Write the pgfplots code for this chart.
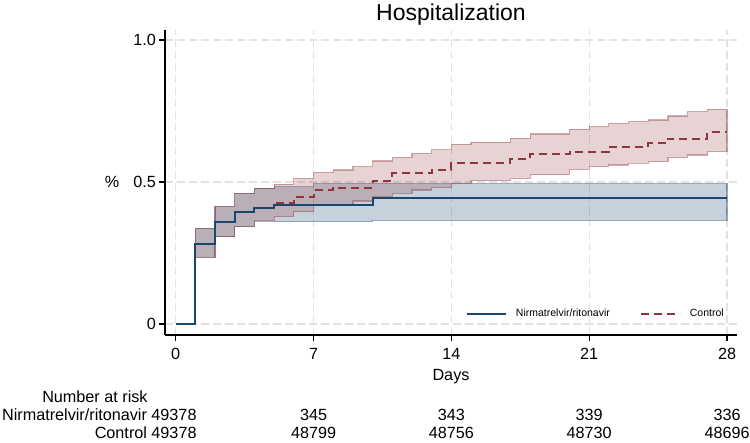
\documentclass[border=0pt]{standalone}
\usepackage{pgfplots}
\pgfplotsset{compat=1.18}
\usepackage{pgfplotstable}
\usepgfplotslibrary{fillbetween}
\usepackage{fontspec}
\setmainfont{Liberation Sans}
\definecolor{navy}{HTML}{1A476F}
\definecolor{maroon}{HTML}{90353B}
\definecolor{gridc}{HTML}{E2E2E2}

\pgfplotstableread{
t s
0 0
1 0.282
2 0.360
3 0.395
4 0.407
5 0.418
10 0.445
28 0.445
}\bline
\pgfplotstableread{
t lo hi
1 0.235 0.337
2 0.307 0.413
3 0.343 0.460
4 0.362 0.478
5 0.360 0.483
7 0.360 0.494
10 0.365 0.494
28 0.365 0.494
}\bband
\pgfplotstableread{
t s
0 0
1 0.282
2 0.360
3 0.395
4 0.410
5 0.425
6 0.446
7 0.472
8 0.480
10 0.505
11 0.531
13 0.542
14 0.566
17 0.580
18 0.597
20 0.607
22 0.624
24 0.636
25 0.653
27 0.675
28 0.675
}\rline
\pgfplotstableread{
t lo hi
1 0.235 0.337
2 0.307 0.413
3 0.343 0.460
4 0.364 0.478
5 0.378 0.492
6 0.395 0.513
7 0.419 0.534
8 0.419 0.542
9 0.433 0.554
10 0.448 0.574
11 0.460 0.587
12 0.472 0.601
13 0.480 0.613
14 0.495 0.633
15 0.505 0.640
17 0.513 0.654
18 0.525 0.669
20 0.544 0.686
21 0.554 0.695
22 0.560 0.706
23 0.566 0.712
24 0.572 0.718
25 0.586 0.732
26 0.595 0.748
27 0.607 0.756
28 0.607 0.756
}\rband

\begin{document}
\begin{tikzpicture}
\begin{axis}[
  at={(82.5pt,54pt)}, anchor=south west,
  scale only axis, width=286pt, height=152.5pt,
  xmin=-0.543, xmax=28.507, ymin=-0.0387, ymax=1.035,
  axis x line*=bottom, axis y line*=left,
  axis line style={line width=0.6pt, -},
  xtick={0,7,14,21,28}, ytick={0,0.5,1}, yticklabels={0,0.5,1.0},
  tick align=outside, major tick length=3pt,
  tick style={black, line width=0.6pt},
  grid=major, grid style={gridc, line width=0.6pt, dash pattern=on 4pt off 2pt},
  tick label style={font=\fontsize{8.1}{9}\selectfont},
  yticklabel style={xshift=2pt},
  /pgf/number format/assume math mode=true,
  xlabel={Days},
  xlabel style={font=\fontsize{8.1}{9}\selectfont, at={(axis description cs:0.5,0)}, anchor=base, yshift=-22.9pt},
  clip=false,
  legend style={at={(axis description cs:0.995,0.069)}, anchor=east, draw=none, fill=none,
    font=\fontsize{5.25}{6}\selectfont, legend columns=2,
    /tikz/every odd column/.append style={column sep=2.5pt},
    /tikz/every even column/.append style={column sep=13pt}},
  legend image code/.code={\draw[#1] (0pt,0pt) -- (19.5pt,0pt);},
]
\addplot[const plot, draw=none, name path=bl, forget plot] table[x=t, y=lo] {\bband};
\addplot[const plot, draw=none, name path=bh, forget plot] table[x=t, y=hi] {\bband};
\addplot[fill=navy, fill opacity=0.25, draw=navy, draw opacity=0.4, line width=0.6pt, forget plot] fill between[of=bh and bl];
\addplot[const plot, draw=none, name path=rl, forget plot] table[x=t, y=lo] {\rband};
\addplot[const plot, draw=none, name path=rh, forget plot] table[x=t, y=hi] {\rband};
\addplot[fill=maroon, fill opacity=0.22, draw=maroon, draw opacity=0.4, line width=0.6pt, forget plot] fill between[of=rh and rl];
\addplot[const plot, maroon, line width=1pt, dash pattern=on 4pt off 2.5pt, forget plot] table[x=t, y=s] {\rline};
\addplot[const plot, navy, line width=1pt, forget plot] table[x=t, y=s] {\bline};
\addlegendimage{navy, line width=1pt}
\addlegendentry{Nirmatrelvir/ritonavir}
\addlegendimage{maroon, line width=1pt, dash pattern=on 4pt off 2.5pt}
\addlegendentry{Control}
\node[font=\fontsize{11.5}{13}\selectfont, anchor=base, inner sep=0pt] at (axis description cs:0.5,1) [yshift=4.65pt] {Hospitalization};
\node[font=\fontsize{8.1}{9}\selectfont, anchor=center] at (axis cs:-0.543,0.5) [xshift=-26.5pt] {\%};
\begin{scope}[every node/.style={font=\fontsize{8.1}{9}\selectfont, inner sep=0pt}]
\node[anchor=base east] at (axis cs:-1.407,-0.2775) {Number at risk};
\node[anchor=base east] at (axis cs:1.08,-0.3408) {Nirmatrelvir/ritonavir 49378};
\node[anchor=base east] at (axis cs:1.08,-0.4042) {Control 49378};
\node[anchor=base] at (axis cs:7,-0.3408) {345};
\node[anchor=base] at (axis cs:14,-0.3408) {343};
\node[anchor=base] at (axis cs:21,-0.3408) {339};
\node[anchor=base] at (axis cs:28,-0.3408) {336};
\node[anchor=base] at (axis cs:7,-0.4042) {48799};
\node[anchor=base] at (axis cs:14,-0.4042) {48756};
\node[anchor=base] at (axis cs:21,-0.4042) {48730};
\node[anchor=base] at (axis cs:28,-0.4042) {48696};
\end{scope}
\end{axis}
\pgfresetboundingbox
\path[use as bounding box] (0,0) rectangle (375pt,221.5pt);
\end{tikzpicture}
\end{document}
